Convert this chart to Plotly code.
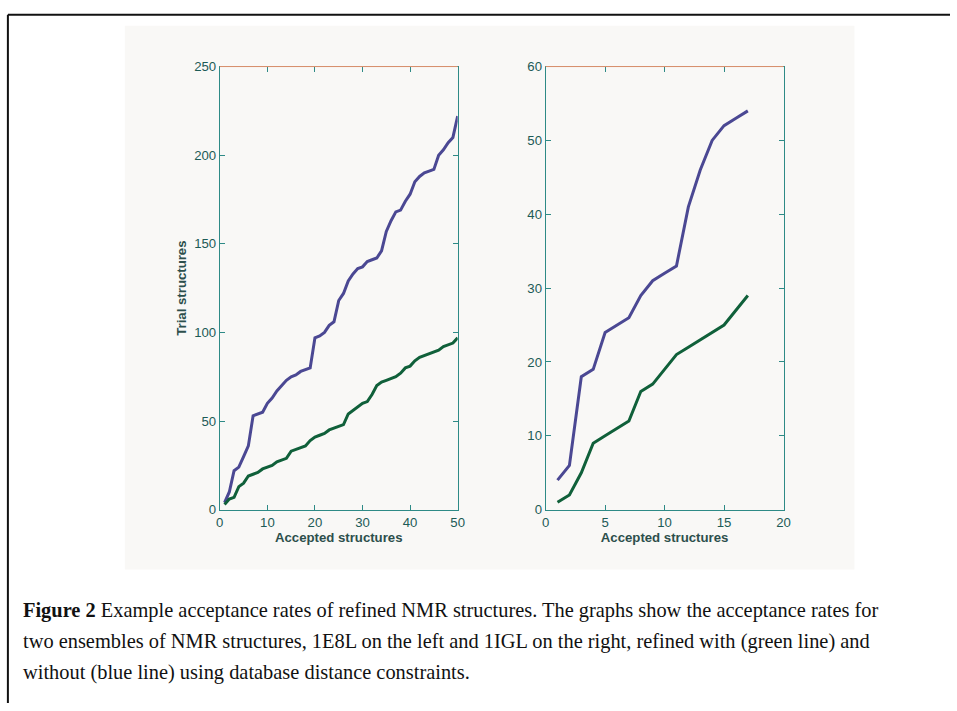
import plotly.graph_objects as go

# Left panel (1E8L)
left_x = list(range(1, 51))
left_blue = [4, 10, 22, 24, 30, 36, 53, 54, 55, 60, 63, 67, 70, 73, 75, 76, 78, 79, 80, 97,
             98, 100, 104, 106, 118, 122, 129, 133, 136, 137, 140, 141, 142, 146, 157, 163, 168, 169, 174, 178,
             185, 188, 190, 191, 192, 200, 203, 207, 210, 222]
left_green = [3, 6, 7, 13, 15, 19, 20, 21, 23, 24, 25, 27, 28, 29, 33, 34, 35, 36, 39, 41,
              42, 43, 45, 46, 47, 48, 54, 56, 58, 60, 61, 65, 70, 72, 73, 74, 75, 77, 80, 81,
              84, 86, 87, 88, 89, 90, 92, 93, 94, 97]

# Right panel (1IGL)
right_x = list(range(1, 18))
right_blue = [4, 6, 18, 19, 24, 25, 26, 29, 31, 32, 33, 41, 46, 50, 52, 53, 54]
right_green = [1, 2, 5, 9, 10, 11, 12, 16, 17, 19, 21, 22, 23, 24, 25, 27, 29]

left_xticks = [0, 10, 20, 30, 40, 50]
left_yticks = [0, 50, 100, 150, 200, 250]
right_xticks = [0, 5, 10, 15, 20]
right_yticks = [0, 10, 20, 30, 40, 50, 60]

BLUE = "#4b4893"
GREEN = "#10603a"
AXIS = "#2e8a86"
TICKFONT = dict(family="Liberation Sans, Arial", size=13.2, color="#1d5b56")
TITLEFONT = dict(family="Liberation Sans, Arial", size=13.2, color="#2d4f4c")

W, H = 957, 711
# pixel positions measured on the target picture, mapped to paper fractions
def px(x):
    return min(1.0, max(0.0, (x - 4.1) / 0.989 / W))
def py(y):
    return min(1.0, max(0.0, 1 - (y - 5.2) / 0.983 / H))

fig = go.Figure()
fig.add_trace(go.Scatter(x=left_x, y=left_blue, mode="lines", line=dict(color=BLUE, width=3),
                         xaxis="x", yaxis="y", showlegend=False))
fig.add_trace(go.Scatter(x=left_x, y=left_green, mode="lines", line=dict(color=GREEN, width=3),
                         xaxis="x", yaxis="y", showlegend=False))
fig.add_trace(go.Scatter(x=right_x, y=right_blue, mode="lines", line=dict(color=BLUE, width=3),
                         xaxis="x2", yaxis="y2", showlegend=False))
fig.add_trace(go.Scatter(x=right_x, y=right_green, mode="lines", line=dict(color=GREEN, width=3),
                         xaxis="x2", yaxis="y2", showlegend=False))

common = dict(showgrid=False, zeroline=False, showline=True, linecolor=AXIS, linewidth=1,
              mirror="ticks", ticks="inside", ticklen=5, tickcolor=AXIS, tickwidth=1,
              tickfont=TICKFONT)

fig.update_layout(
    width=W, height=H, margin=dict(l=0, r=0, t=0, b=0),
    paper_bgcolor="white", plot_bgcolor="rgba(0,0,0,0)",
    xaxis=dict(domain=[px(220), px(458)], range=[0, 50], tickvals=left_xticks, anchor="y",
               title=dict(text="<b>Accepted structures</b>", font=TITLEFONT, standoff=1), **common),
    yaxis=dict(domain=[py(510), py(65)], range=[0, 250], tickvals=left_yticks, anchor="x",
               title=dict(text="<b>Trial structures</b>", font=TITLEFONT, standoff=4), **common),
    xaxis2=dict(domain=[px(546), px(784)], range=[0, 20], tickvals=right_xticks, anchor="y2",
                title=dict(text="<b>Accepted structures</b>", font=TITLEFONT, standoff=1), **common),
    yaxis2=dict(domain=[py(510), py(65)], range=[0, 60], tickvals=right_yticks, anchor="x2", **common),
)

shapes = [
    # photo panel background
    dict(type="rect", xref="paper", yref="paper", x0=px(125), x1=px(855), y0=py(570), y1=py(24),
         fillcolor="#f9f8f6", line=dict(width=0), layer="below"),
    # outer border lines
    dict(type="line", xref="paper", yref="paper", x0=px(8), x1=1, y0=py(13), y1=py(13),
         line=dict(color="#111111", width=2)),
    dict(type="line", xref="paper", yref="paper", x0=px(8), x1=px(8), y0=py(13), y1=0,
         line=dict(color="#111111", width=2)),
    # salmon top edges of plot boxes
    dict(type="line", xref="paper", yref="paper", x0=px(220), x1=px(458), y0=py(65), y1=py(65),
         line=dict(color="#e0906e", width=1)),
    dict(type="line", xref="paper", yref="paper", x0=px(546), x1=px(784), y0=py(65), y1=py(65),
         line=dict(color="#e0906e", width=1)),
]
fig.update_layout(shapes=shapes)

CAP = dict(family="Liberation Serif, Times New Roman", size=20.4, color="#111111")
captions = [
    "<b>Figure 2</b> Example acceptance rates of refined NMR structures. The graphs show the acceptance rates for",
    "two ensembles of NMR structures, 1E8L on the left and 1IGL on the right, refined with (green line) and",
    "without (blue line) using database distance constraints.",
]
for i, t in enumerate(captions):
    fig.add_annotation(text=t, xref="paper", yref="paper", x=px(21), y=py(611 + i * 31),
                       xanchor="left", yanchor="middle", showarrow=False, font=CAP, align="left")

fig.write_html("out.html")
